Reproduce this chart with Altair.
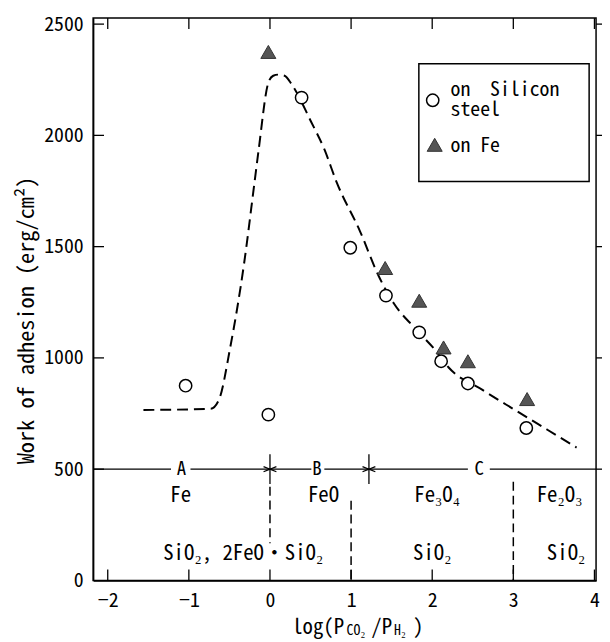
import altair as alt
import pandas as pd

# ---------------- data ----------------
si_x = [-1.04, -0.02, 0.39, 0.99, 1.43, 1.84, 2.11, 2.44, 3.16]
si_y = [875, 745, 2170, 1495, 1280, 1115, 985, 885, 685]

fe_x = [-0.02, 1.42, 1.84, 2.14, 2.44, 3.17]
fe_y = [2375, 1404, 1257, 1047, 985, 815]

curve_x = [-1.56, -0.73, -0.63, -0.49, -0.32, -0.19, -0.14, -0.02, 0.04, 0.10,
           0.18, 0.27, 0.51, 0.67, 0.82, 1.11, 1.34, 1.53, 1.78, 2.04, 2.20,
           2.62, 3.02, 3.42, 3.78]
curve_y = [766, 771, 811, 1047, 1422, 1791, 1934, 2237, 2268, 2273,
           2268, 2228, 2059, 1938, 1791, 1569, 1368, 1243, 1136, 1034, 958,
           856, 766, 677, 597]

# region line at 500 with gaps for the letters
seg_start = [-2.18, -0.98, 0.0, 0.67, 1.22, 2.71]
seg_end = [-1.22, 0.0, 0.51, 1.22, 2.44, 4.02]
line_level = 500
region_letters = ["A", "B", "C"]
region_letter_x = [-1.09, 0.58, 2.58]
boundary_x = [0.0, 1.22]
boundary_lo = [433]
boundary_hi = [567]

phase_names = ["Fe", "FeO", "Fe₃O₄", "Fe₂O₃"]
phase_x = [-1.1, 0.66, 2.06, 3.57]
phase_y = 354
oxide_names = ["SiO₂, 2FeO・SiO₂", "SiO₂", "SiO₂"]
oxide_x = [-0.33, 2.0, 3.65]
oxide_y = 91

dash_x = [0.0, 1.0, 3.0]
dash_top = [421, 358, 443]
dash_bottom = [167, 0, 0]

x_ticks = [-2, -1, 0, 1, 2, 3, 4]
y_ticks = [0, 500, 1000, 1500, 2000, 2500]

legend_si = ["on\u00a0\u00a0Silicon", "steel"]
legend_fe = "on Fe"

# ---------------- helpers ----------------
W, H = 508, 568
FONT = "Noto Sans Mono CJK JP"
xs = alt.Scale(domain=[-2.18, 4.02], nice=False, zero=False)
ys = alt.Scale(domain=[0, 2527], nice=False, zero=False)

xaxis = alt.Axis(values=x_ticks, ticks=False, labelPadding=10, title=None,
                 grid=False, labelFontSize=20, labelFont=FONT, format="d")
yaxis = alt.Axis(values=y_ticks, ticks=False, labelPadding=10, grid=False,
                 labelFontSize=20, labelFont=FONT, format="d",
                 title="Work of adhesion (erg/cm²)", titleFont=FONT,
                 titleFontSize=22.5, titleFontWeight="normal", titleX=-67,
                 titleY=305, titleAlign="center", titleBaseline="middle",
                 titleAngle=270)


def X(f="x"):
    return alt.X(f"{f}:Q", scale=xs, axis=xaxis)


def Y(f="y"):
    return alt.Y(f"{f}:Q", scale=ys, axis=yaxis)


curve_df = pd.DataFrame({"x": curve_x, "y": curve_y})
si_df = pd.DataFrame({"x": si_x, "y": si_y})
fe_df = pd.DataFrame({"x": fe_x, "y": fe_y})
seg_df = pd.DataFrame({"x": seg_start, "x2": seg_end, "y": [line_level] * len(seg_start)})
bnd_df = pd.DataFrame({"x": boundary_x, "y": boundary_lo * 2, "y2": boundary_hi * 2})
arr_df = pd.DataFrame({"x": boundary_x, "y": [line_level] * 2})
let_df = pd.DataFrame({"x": region_letter_x, "y": [line_level] * 3, "t": region_letters})
ph_df = pd.DataFrame({"x": phase_x, "y": [phase_y] * 4, "t": phase_names})
ox_df = pd.DataFrame({"x": oxide_x, "y": [oxide_y] * 3, "t": oxide_names})
dash_df = pd.DataFrame({"x": dash_x, "y": dash_top, "y2": dash_bottom})
xt_df = pd.DataFrame({"x": x_ticks})
yt_df = pd.DataFrame({"y": y_ticks[1:]})

curve = alt.Chart(curve_df).mark_line(
    color="black", strokeWidth=2, strokeDash=[11, 6], interpolate="monotone"
).encode(x=X(), y=Y())

si = alt.Chart(si_df).mark_point(
    shape="circle", size=155, fill="white", stroke="black", strokeWidth=1.5,
    opacity=1, fillOpacity=1
).encode(x=X(), y=Y())

fe = alt.Chart(fe_df).mark_point(
    shape="triangle-up", size=230, filled=True, fill="#555555", stroke="#333333",
    strokeWidth=1, opacity=1
).encode(x=X(), y=Y())

segs = alt.Chart(seg_df).mark_rule(color="black", strokeWidth=1.3).encode(
    x=X(), x2="x2:Q", y=Y())

bnds = alt.Chart(bnd_df).mark_rule(color="black", strokeWidth=1.3).encode(
    x=X(), y=Y(), y2="y2:Q")

arr_r = alt.Chart(arr_df).mark_point(
    shape="M-2,-0.8L0,0L-2,0.8", size=42, filled=False, stroke="black",
    strokeWidth=1.2, opacity=1
).encode(x=X(), y=Y())
arr_l = alt.Chart(arr_df).mark_point(
    shape="M2,-0.8L0,0L2,0.8", size=42, filled=False, stroke="black",
    strokeWidth=1.2, opacity=1
).encode(x=X(), y=Y())

letters = alt.Chart(let_df).mark_text(
    font=FONT, fontSize=19, baseline="middle", align="center", color="black"
).encode(x=X(), y=Y(), text="t:N")

phases = alt.Chart(ph_df).mark_text(
    font=FONT, fontSize=21, baseline="alphabetic", align="center", color="black"
).encode(x=X(), y=Y(), text="t:N")

oxides = alt.Chart(ox_df).mark_text(
    font=FONT, fontSize=21, baseline="alphabetic", align="center", color="black"
).encode(x=X(), y=Y(), text="t:N")

dashes = alt.Chart(dash_df).mark_rule(
    color="black", strokeWidth=1.5, strokeDash=[9, 5]
).encode(x=X(), y=Y(), y2="y2:Q")

tick_b = alt.Chart(xt_df).mark_rule(color="black", strokeWidth=1.3).encode(
    x=X(), y=alt.value(H), y2=alt.value(H - 11))
tick_t = alt.Chart(xt_df).mark_rule(color="black", strokeWidth=1.3).encode(
    x=X(), y=alt.value(0), y2=alt.value(11))
tick_l = alt.Chart(yt_df).mark_rule(color="black", strokeWidth=1.3).encode(
    y=Y(), x=alt.value(0), x2=alt.value(11))
tick_r = alt.Chart(yt_df).mark_rule(color="black", strokeWidth=1.3).encode(
    y=Y(), x=alt.value(W), x2=alt.value(W + 6))

# legend (drawn by hand)
one = pd.DataFrame({"k": [0]})
leg_box = alt.Chart(one).mark_rect(
    fill="white", stroke="black", strokeWidth=1.5
).encode(x=alt.value(329), x2=alt.value(501), y=alt.value(46), y2=alt.value(165))
leg_c = alt.Chart(one).mark_point(
    shape="circle", size=155, fill="white", stroke="black", strokeWidth=1.5,
    opacity=1, fillOpacity=1
).encode(x=alt.value(343), y=alt.value(83))
leg_t = alt.Chart(one).mark_point(
    shape="triangle-up", size=230, filled=True, fill="#555555", stroke="#333333",
    strokeWidth=1, opacity=1
).encode(x=alt.value(345), y=alt.value(128))
leg_si_text = alt.Chart(one).mark_text(
    font=FONT, fontSize=20, align="left", baseline="alphabetic", color="black",
    lineHeight=20
).encode(x=alt.value(361), y=alt.value(79), text=alt.value(legend_si))


def txt(t, x, y, size=21, baseline="alphabetic"):
    return alt.Chart(pd.DataFrame({"t": [t]})).mark_text(
        font=FONT, fontSize=size, align="left", baseline=baseline, color="black"
    ).encode(x=alt.value(x), y=alt.value(y), text="t:N")


leg_fe_text = txt(legend_fe, 361, 135, size=20)

# x axis title made of pieces (subscripts)
TB = H + 54
xt = [txt("log(P", 201, TB), txt("CO₂", 256, TB + 1, size=14),
      txt("/P", 281, TB), txt("H₂", 304, TB + 1, size=14), txt(")", 323, TB)]

chart = alt.layer(
    curve, segs, bnds, arr_r, arr_l, dashes, letters, phases, oxides,
    tick_b, tick_t, tick_l, tick_r, si, fe, leg_box, leg_c, leg_t,
    leg_si_text, leg_fe_text, *xt
).properties(
    width=W, height=H,
    autosize=alt.AutoSizeParams(type="none"),
    padding={"left": 86, "top": 7, "right": 6, "bottom": 60},
).configure_view(
    stroke="black", strokeWidth=1.5
).configure_axis(
    domainColor="black", domainWidth=1.5, labelColor="black", titleColor="black"
)

chart.save("out.html", embed_options={"renderer": "svg", "actions": False})
